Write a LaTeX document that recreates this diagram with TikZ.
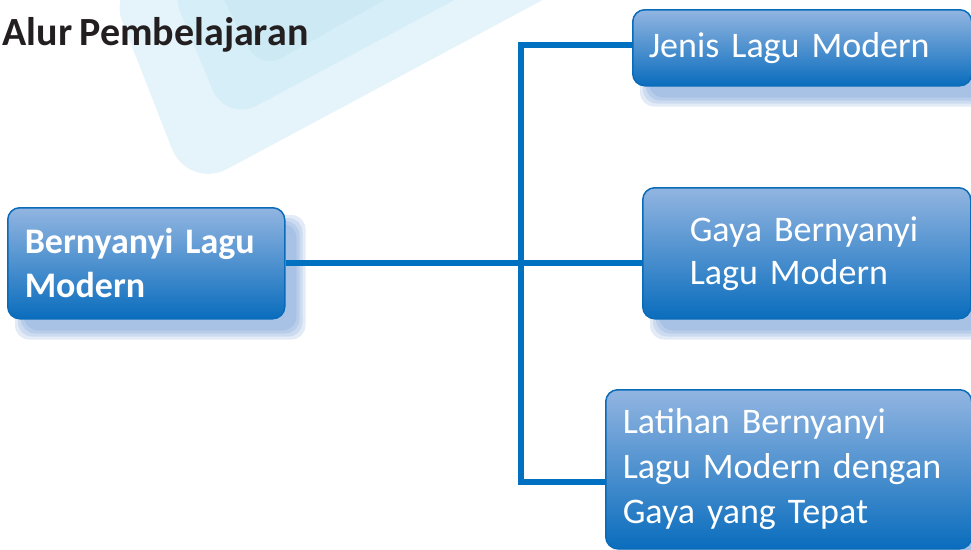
\documentclass[tikz,border=0pt]{standalone}
\usepackage{fontspec}
\setmainfont{Carlito}[WordSpace=0.8]
\usetikzlibrary{backgrounds}

\definecolor{boxtop}{HTML}{92B5E1}
\definecolor{boxmid}{HTML}{4C8BD0}
\definecolor{boxbot}{HTML}{0A6DBD}
\definecolor{boxline}{HTML}{0A6BB8}
\definecolor{linkblue}{HTML}{0070C0}
\definecolor{shadowblue}{HTML}{5A8ACD}
\definecolor{titleink}{HTML}{231F20}
\definecolor{bgone}{HTML}{E5F4FA}
\definecolor{bgtwo}{HTML}{D6EEF7}
\definecolor{bgthree}{HTML}{CDE9F4}

\tikzset{
  topicbox/.style={draw=boxline, line width=1.5pt, rounded corners=12pt,
    top color=boxtop, middle color=boxmid, bottom color=boxbot,
    text=white, align=left, anchor=north west,
    font=\fontsize{36}{44}\selectfont},
  conn/.style={draw=linkblue, line width=6pt},
  boxshade/.style={fill=shadowblue, opacity=.17, rounded corners=14pt}
}

\begin{document}
\begin{tikzpicture}[x=1pt,y=-1pt]
    \useasboundingbox (0,0) rectangle (971,549);
    % watermark
    \fill[bgone, rounded corners=45pt] (106,-20) -- (188,190) -- (580,-20) -- cycle;
    \fill[bgtwo, rounded corners=35pt] (167,-20) -- (226,122) -- (492,-20) -- cycle;
    \fill[bgthree, rounded corners=25pt] (214,-20) -- (260,70) -- (420,-20) -- cycle;

    \node[anchor=base west, text=titleink, font=\fontsize{40}{44}\selectfont\bfseries]
        at (-1,45) (title) {Alur Pembelajaran};

    \node[topicbox, font=\fontsize{36}{44}\selectfont\bfseries, minimum width=277pt,
        minimum height=111pt, inner xsep=17pt, text width=243pt] at (7,207) (Main)
        {Bernyanyi Lagu\\Modern};
    \node[topicbox, minimum width=339pt, minimum height=76pt, inner xsep=16pt,
        text width=307pt] at (632,9) (Jenis) {Jenis Lagu Modern};
    \node[topicbox, font=\fontsize{36}{43}\selectfont, minimum width=328pt,
        minimum height=131pt, inner xsep=47pt, text width=234pt] at (642,187) (Gaya)
        {Gaya Bernyanyi\\Lagu Modern};
    \node[topicbox, font=\fontsize{36}{45}\selectfont, minimum width=366pt,
        minimum height=159pt, inner xsep=17pt, text width=332pt] at (605,389) (Latihan)
        {Latihan Bernyanyi\\Lagu Modern dengan\\Gaya yang Tepat};

    % soft shadows
    \begin{scope}[on background layer]
        \foreach \n in {Main,Jenis,Gaya,Latihan}
            \foreach \g in {-3,0,3,6}
                \fill[boxshade] ([shift={(14-\g,14-\g)}]\n.north west)
                    rectangle ([shift={(14+\g,14+\g)}]\n.south east);
    \end{scope}

    \coordinate (hub) at (520.5,262.5);
    \draw[conn] (Main.east) -- (Main.east -| Gaya.west);
    \draw[conn] ([yshift=3pt]Jenis.west) -| (hub) |- ([yshift=-12.5pt]Latihan.west);
\end{tikzpicture}
\end{document}
